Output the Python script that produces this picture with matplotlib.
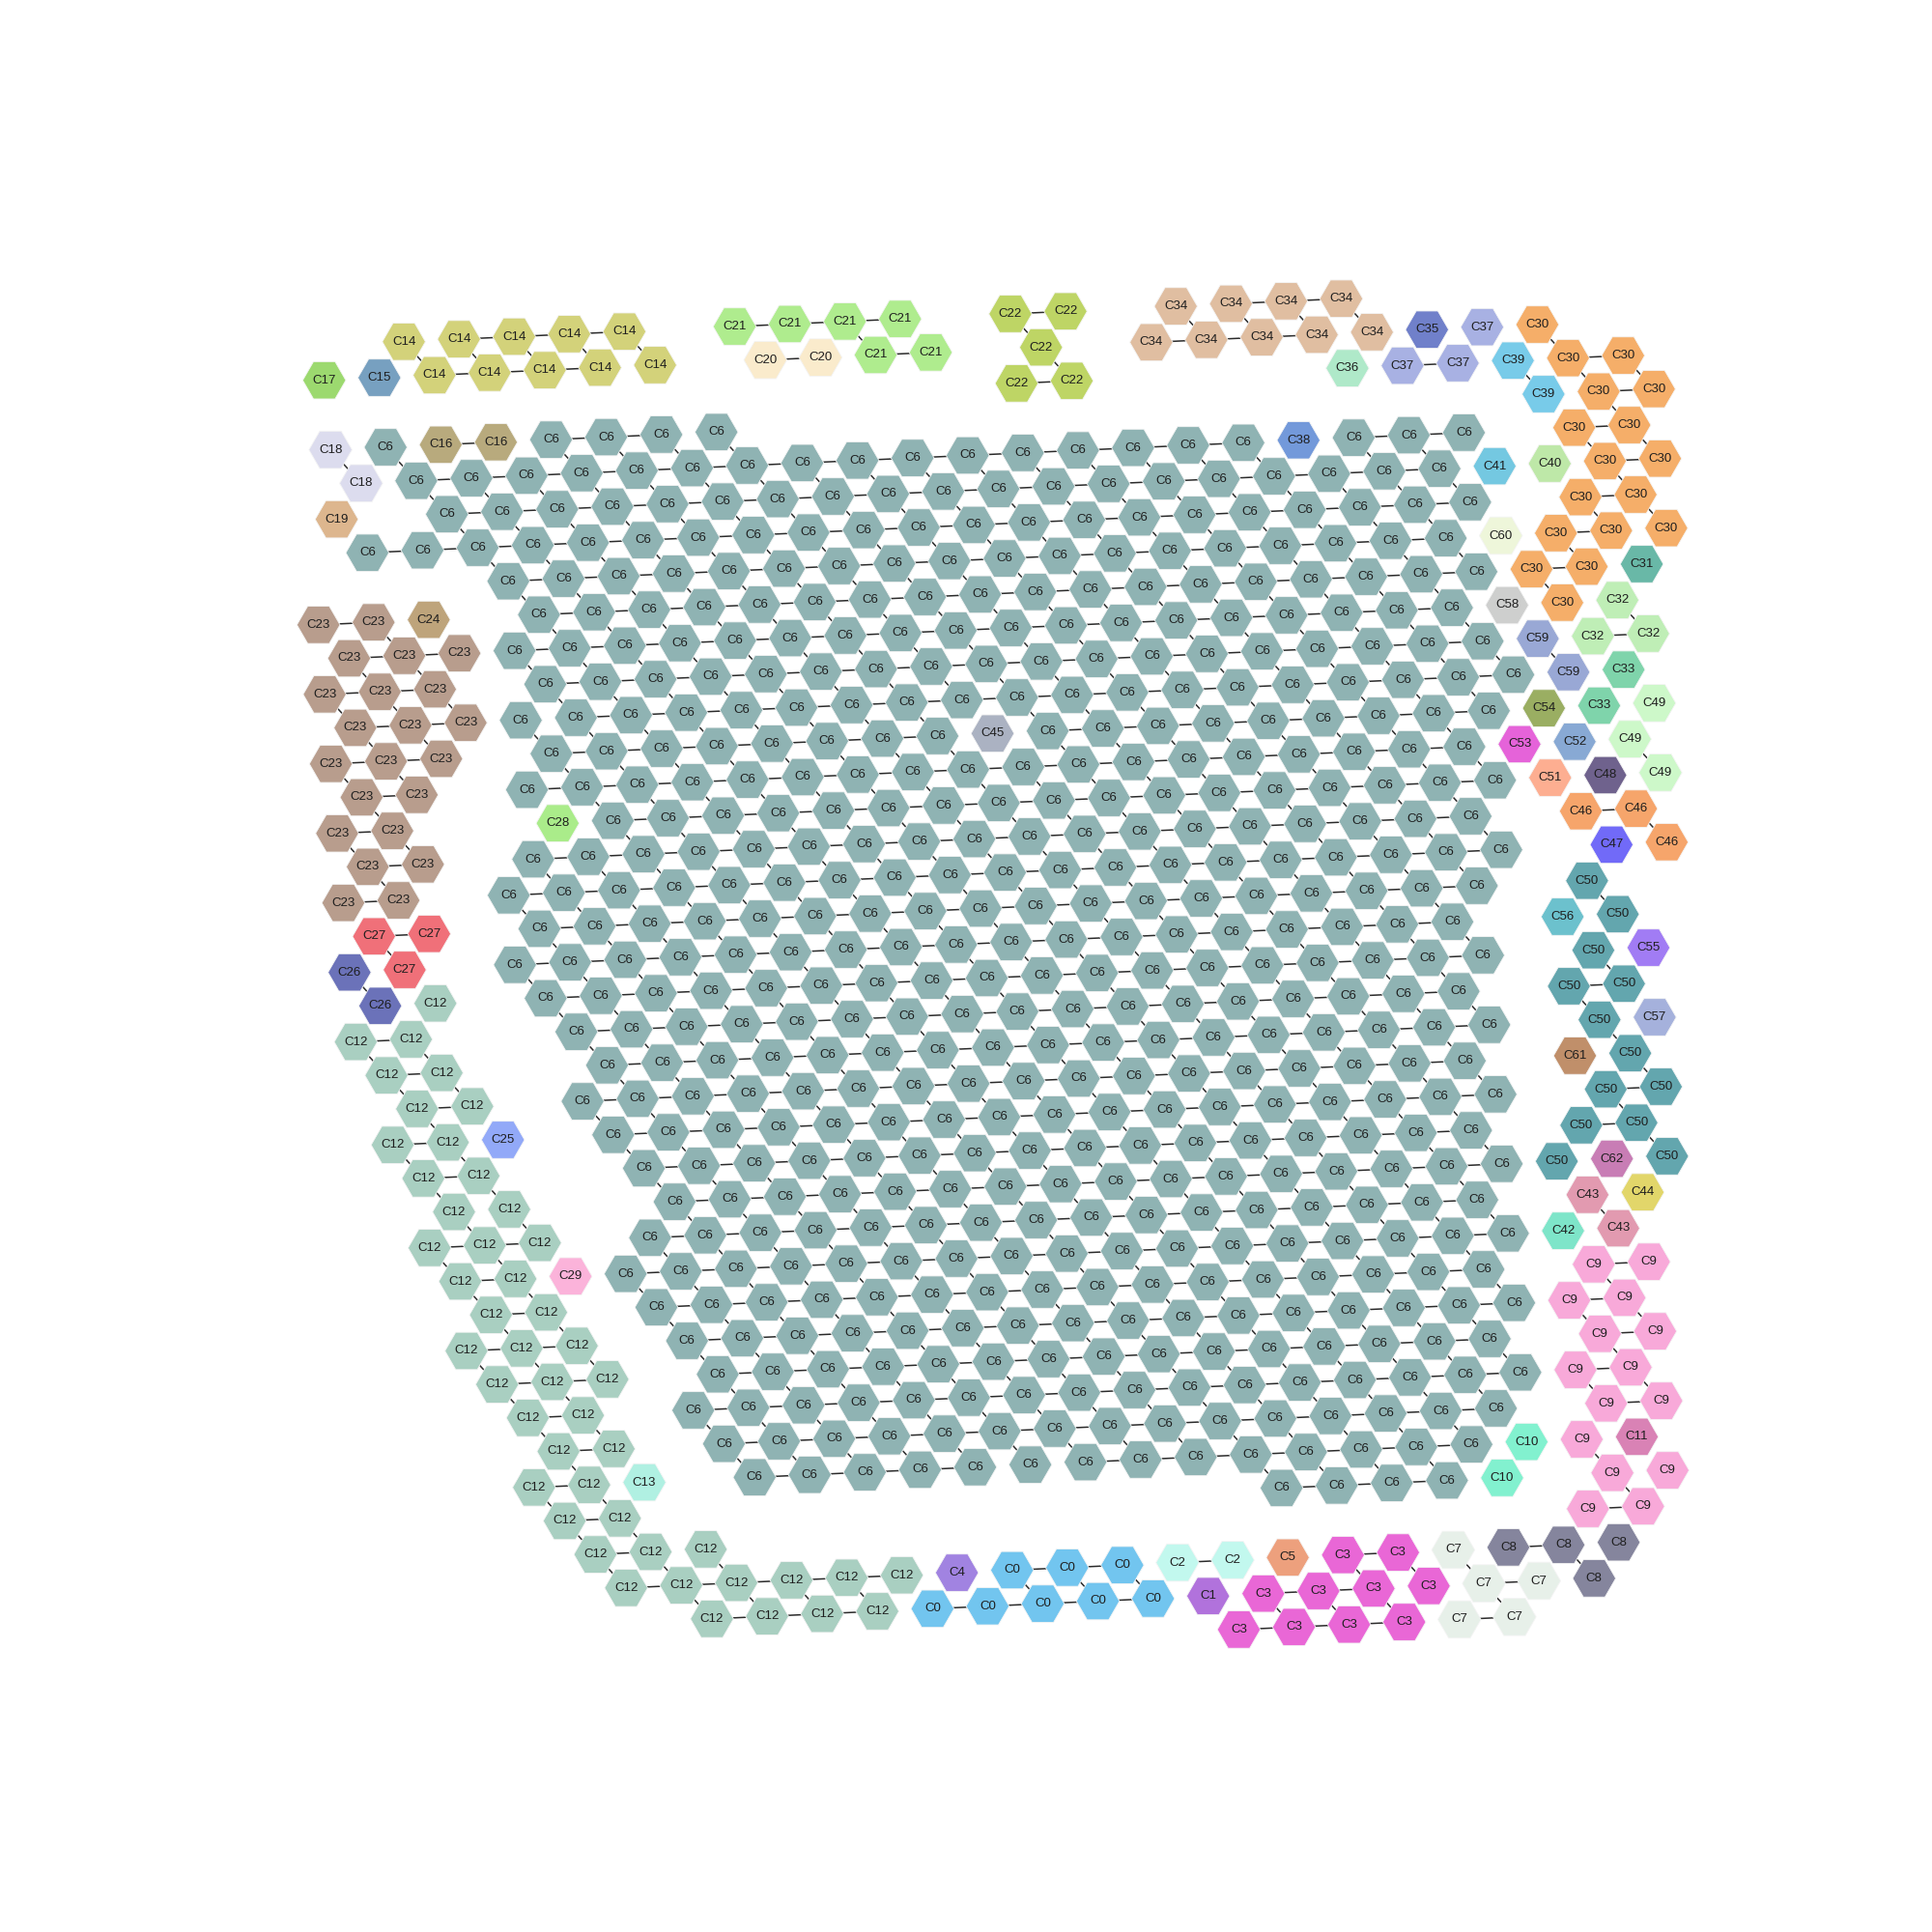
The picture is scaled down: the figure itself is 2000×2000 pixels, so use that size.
import numpy as np
import matplotlib
matplotlib.use("Agg")
import matplotlib.pyplot as plt
from matplotlib.collections import PolyCollection, LineCollection

# spots sit on one hex lattice: (row, col) -> position
# big C6 block, one entry per lattice row: (row, first col, last col)
block_rows = [(0, 0, 6), (1, 0, 19), (2, 0, 18), (3, -2, 18), (4, 0, 17), (5, 0, 17),
              (6, -1, 16), (7, -1, 16), (8, -2, 16), (9, -2, 15), (10, -3, 14), (11, -2, 14),
              (12, -4, 13), (13, -5, 13), (14, -5, 12), (15, -6, 11), (16, -6, 11), (17, -6, 10),
              (18, -6, 10), (19, -7, 9), (20, -7, 9), (21, -7, 8), (22, -7, 8), (23, -8, 7),
              (24, -9, 7), (25, -9, 6), (26, -9, 6), (27, -9, 5), (28, -10, 5), (29, -10, 4),
              (30, -10, 3), (31, -1, 2)]

# all other clusters as runs: (cluster, row, first col, last col)
runs = [
    ("C14", -3, 2, 6), ("C21", -3, 8, 11), ("C22", -3, 13, 14), ("C34", -3, 16, 19),
    ("C17", -2, 0, 0), ("C15", -2, 1, 1), ("C14", -2, 2, 6), ("C20", -2, 8, 9), ("C21", -2, 10, 11),
    ("C22", -2, 13, 13), ("C34", -2, 15, 19), ("C35", -2, 20, 20), ("C37", -2, 21, 21), ("C30", -2, 22, 22),
    ("C22", -1, 12, 13), ("C36", -1, 18, 18), ("C37", -1, 19, 20), ("C39", -1, 21, 21), ("C30", -1, 22, 23),
    ("C18", 0, -1, -1), ("C16", 0, 1, 2), ("C39", 0, 21, 21), ("C30", 0, 22, 23),
    ("C18", 1, -1, -1), ("C38", 1, 16, 16), ("C30", 1, 21, 22),
    ("C19", 2, -2, -2), ("C41", 2, 19, 19), ("C40", 2, 20, 20), ("C30", 2, 21, 22),
    ("C30", 3, 20, 21),
    ("C60", 4, 18, 18), ("C30", 4, 19, 21),
    ("C23", 5, -4, -3), ("C24", 5, -2, -2), ("C30", 5, 18, 19), ("C31", 5, 20, 20),
    ("C23", 6, -4, -2), ("C58", 6, 17, 17), ("C30", 6, 18, 18), ("C32", 6, 19, 19),
    ("C23", 7, -5, -3), ("C59", 7, 17, 17), ("C32", 7, 18, 19),
    ("C23", 8, -5, -3), ("C59", 8, 17, 17), ("C33", 8, 18, 18),
    ("C23", 9, -6, -4), ("C45", 9, 6, 6), ("C54", 9, 16, 16), ("C33", 9, 17, 17), ("C49", 9, 18, 18),
    ("C23", 10, -6, -5), ("C53", 10, 15, 15), ("C52", 10, 16, 16), ("C49", 10, 17, 17),
    ("C23", 11, -7, -6), ("C28", 11, -3, -3), ("C51", 11, 15, 15), ("C48", 11, 16, 16), ("C49", 11, 17, 17),
    ("C23", 12, -7, -6), ("C46", 12, 15, 16),
    ("C23", 13, -8, -7), ("C47", 13, 15, 15), ("C46", 13, 16, 16),
    ("C27", 14, -8, -7), ("C50", 14, 14, 14),
    ("C26", 15, -9, -9), ("C27", 15, -8, -8), ("C56", 15, 13, 13), ("C50", 15, 14, 14),
    ("C26", 16, -9, -9), ("C12", 16, -8, -8), ("C50", 16, 13, 13), ("C55", 16, 14, 14),
    ("C12", 17, -10, -9), ("C50", 17, 12, 13),
    ("C12", 18, -10, -9), ("C50", 18, 12, 12), ("C57", 18, 13, 13),
    ("C12", 19, -10, -9), ("C61", 19, 11, 11), ("C50", 19, 12, 12),
    ("C12", 20, -11, -10), ("C25", 20, -9, -9), ("C50", 20, 11, 12),
    ("C12", 21, -11, -10), ("C50", 21, 10, 11),
    ("C12", 22, -11, -10), ("C50", 22, 9, 9), ("C62", 22, 10, 10), ("C50", 22, 11, 11),
    ("C12", 23, -12, -10), ("C43", 23, 9, 9), ("C44", 23, 10, 10),
    ("C12", 24, -12, -11), ("C29", 24, -10, -10), ("C42", 24, 8, 8), ("C43", 24, 9, 9),
    ("C12", 25, -12, -11), ("C9", 25, 8, 9),
    ("C12", 26, -13, -11), ("C9", 26, 7, 8),
    ("C12", 27, -13, -11), ("C9", 27, 7, 8),
    ("C12", 28, -13, -12), ("C9", 28, 6, 7),
    ("C12", 29, -13, -12), ("C9", 29, 6, 7),
    ("C12", 30, -14, -13), ("C13", 30, -12, -12), ("C10", 30, 4, 4), ("C9", 30, 5, 5), ("C11", 30, 6, 6),
    ("C12", 31, -14, -13), ("C10", 31, 3, 3), ("C9", 31, 5, 6),
    ("C12", 32, -14, -12), ("C9", 32, 4, 5),
    ("C12", 33, -14, -9), ("C4", 33, -8, -8), ("C0", 33, -7, -5), ("C2", 33, -4, -3), ("C5", 33, -2, -2),
    ("C3", 33, -1, 0), ("C7", 33, 1, 1), ("C8", 33, 2, 4),
    ("C12", 34, -13, -10), ("C0", 34, -9, -5), ("C1", 34, -4, -4), ("C3", 34, -3, 0), ("C7", 34, 1, 2),
    ("C8", 34, 3, 3),
    ("C3", 35, -4, -1), ("C7", 35, 0, 1),
]

# neighbour links that are not drawn in the picture
missing_edges = [((-3, 2), (-3, 3)), ((-2, 5), (-2, 6)), ((-3, 16), (-3, 17)), ((-2, 18), (-2, 19)),
                 ((-3, 11), (-2, 11)), ((22, -11), (22, -10)), ((32, -13), (32, -12)), ((34, -1), (34, 0)),
                 ((33, 3), (33, 4)), ((31, 5), (31, 6)), ((4, 20), (4, 21)), ((5, -4), (6, -4)),
                 ((0, 5), (0, 6)), ((8, -2), (8, -1)), ((30, -6), (30, -5)), ((30, -5), (30, -4))]

colors = {
    "C0": "#72C5EF", "C1": "#B172DC", "C2": "#C2F8EE", "C3": "#E967D6", "C4": "#A183E1",
    "C5": "#EDA07D", "C6": "#8FB3B3", "C7": "#E7F0E9", "C8": "#85859D", "C9": "#F8A9D9",
    "C10": "#82F1CF", "C11": "#D982B5", "C12": "#A9CFC1", "C13": "#B0F0E2", "C14": "#D3D27A",
    "C15": "#77A0C0", "C16": "#B8AA7D", "C17": "#9CD96F", "C18": "#DCDCEE", "C19": "#DDB68E",
    "C20": "#FAEBCC", "C21": "#AFEC8E", "C22": "#BED565", "C23": "#B89D8D", "C24": "#BEA47B",
    "C25": "#92A9F8", "C26": "#6B72B9", "C27": "#F07079", "C28": "#AAEC8A", "C29": "#FBB3DA",
    "C30": "#F5AE69", "C31": "#69B8A7", "C32": "#BFEEB6", "C33": "#7FD4AB", "C34": "#E0BEA1",
    "C35": "#7080CA", "C36": "#AFE9C9", "C37": "#A8B1E3", "C38": "#7399DA", "C39": "#78CBE9",
    "C40": "#BEE8A8", "C41": "#74C8E1", "C42": "#7EE5C9", "C43": "#E29AB0", "C44": "#E2D66A",
    "C45": "#ABB2C2", "C46": "#F6A56B", "C47": "#716AF8", "C48": "#6F628D", "C49": "#CDF8C9",
    "C50": "#63A6AE", "C51": "#FDAE91", "C52": "#88A9D4", "C53": "#E563D9", "C54": "#9AAE62",
    "C55": "#A17CF4", "C56": "#6CC1CD", "C57": "#A5B1DC", "C58": "#CECFCE", "C59": "#99A8D5",
    "C60": "#EEF6DA", "C61": "#C08F6A",
    "C62": "#C87DB5",
}

# lattice -> pixel (2000 px canvas, y down)
origin = np.array([399.2, 463.0])
col_step = np.array([57.08, -2.62])
row_step = np.array([31.76, 34.67])
hex_r = 22.3

spots = {}
for r, c0, c1 in block_rows:
    for c in range(c0, c1 + 1):
        spots[(r, c)] = "C6"
for lab, r, c0, c1 in runs:
    for c in range(c0, c1 + 1):
        spots[(r, c)] = lab


def pos(key):
    r, c = key
    return origin + c * col_step + r * row_step


skip = set()
for a, b in missing_edges:
    skip.add((a, b))
    skip.add((b, a))

segs = []
for key, lab in spots.items():
    r, c = key
    for nb in [(r, c + 1), (r + 1, c)]:
        if spots.get(nb) == lab and (key, nb) not in skip:
            segs.append([pos(key), pos(nb)])

ang = np.deg2rad(np.arange(0, 360, 60))
unit_hex = np.column_stack([np.cos(ang), np.sin(ang)]) * hex_r

keys = list(spots.keys())
polys = [pos(k) + unit_hex for k in keys]
fc = [colors[spots[k]] for k in keys]

fig = plt.figure(figsize=(20, 20), dpi=100)
ax = fig.add_axes([0, 0, 1, 1])
ax.set_xlim(0, 2000)
ax.set_ylim(2000, 0)
ax.axis("off")

ax.add_collection(LineCollection(segs, colors="#2b2b2b", linewidths=1.1, zorder=1))
ax.add_collection(PolyCollection(polys, facecolors=fc, edgecolors="#f4f4f4", linewidths=0.6, zorder=2))

for k in keys:
    x, y = pos(k)
    ax.text(x, y, spots[k], ha="center", va="center", fontsize=9.5,
            family=["Liberation Sans", "DejaVu Sans"], color="#1e1e1e", zorder=3)

fig.savefig("out.png", dpi=100, facecolor="white")
